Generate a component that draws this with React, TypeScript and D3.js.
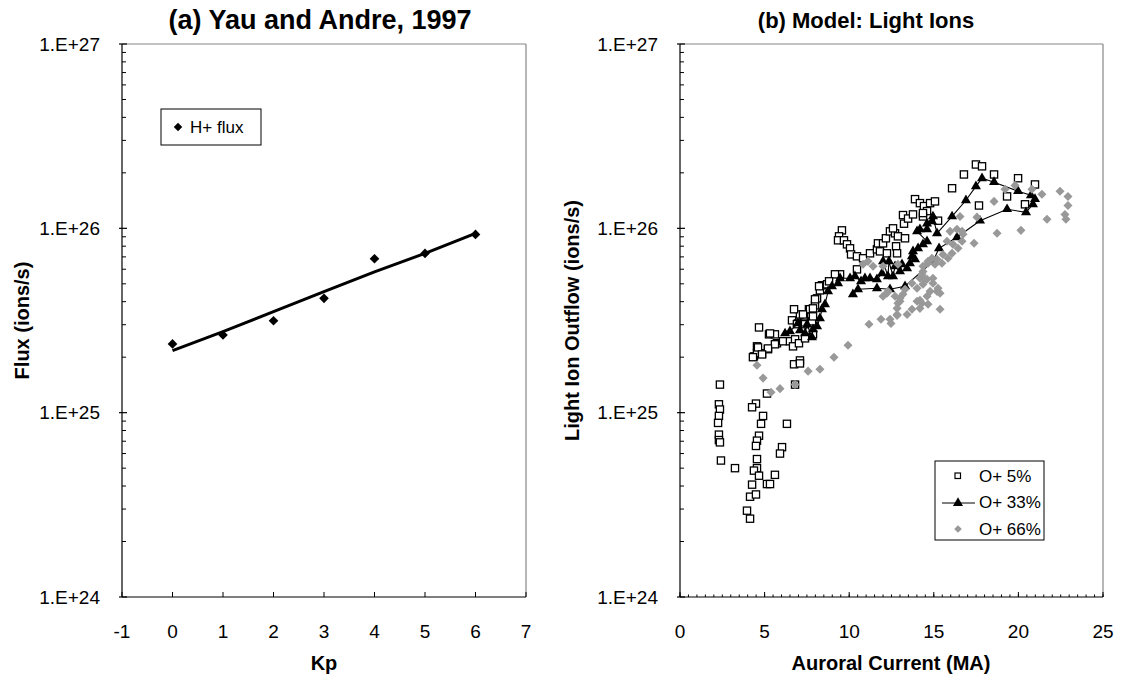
import React from 'react';
import * as d3 from 'd3';

// ---------- Panel (a) data ----------
const kpValues = [0, 1, 2, 3, 4, 5, 6];
const hFlux = [2.36e25, 2.64e25, 3.15e25, 4.17e25, 6.84e25, 7.31e25, 9.27e25];
const fitKp = [0, 1, 2, 3, 4, 5, 6];
const fitFlux = [2.17e25, 2.75e25, 3.53e25, 4.53e25, 5.81e25, 7.31e25, 9.4e25];
const kpTicks = [-1, 0, 1, 2, 3, 4, 5, 6, 7];

// ---------- Panel (b) data: [auroral current (MA), flux (ions/s)] ----------
const o5: [number, number][] = [
  [2.36, 1.42e25], [2.3, 1.11e25], [2.36, 1.04e25], [2.3, 9.6e24], [2.25, 8.8e24], [2.3, 7.6e24], [2.3, 7.1e24], [2.36, 6.9e24], [2.42, 5.5e24], [3.25, 5.0e24],
  [4.49, 1.12e25], [4.26, 1.07e25], [4.91, 9.6e24], [4.79, 8.7e24], [4.67, 7.5e24], [4.55, 7.05e24], [4.49, 6.6e24], [4.55, 5.6e24], [4.55, 5.0e24], [4.37, 4.85e24],
  [4.67, 4.55e24], [4.26, 4.07e24], [4.14, 3.5e24], [4.49, 3.6e24], [3.96, 2.94e24], [4.14, 2.66e24], [5.14, 4.1e24], [5.32, 4.1e24], [5.61, 4.6e24], [6.03, 6.5e24],
  [5.91, 6.0e24], [6.32, 8.7e24], [6.74, 1.83e25], [7.09, 1.92e25], [5.14, 1.27e25], [6.8, 1.42e25],
  [4.67, 2.9e25], [4.37, 2.02e25], [4.55, 2.1e25], [4.85, 2.1e25], [4.55, 2.29e25], [5.2, 2.21e25], [5.26, 2.66e25], [5.61, 2.66e25], [5.73, 2.38e25], [6.09, 2.44e25],
  [6.5, 2.44e25], [6.8, 2.5e25], [6.68, 2.29e25], [7.03, 2.38e25], [7.39, 2.53e25], [7.62, 2.8e25], [7.33, 3.33e25], [7.62, 3.64e25], [7.98, 3.82e25], [8.27, 4.61e25],
  [8.39, 4.91e25], [8.1, 4.17e25], [6.62, 3.17e25], [6.97, 3.05e25], [7.09, 3.41e25], [7.39, 3.02e25], [7.8, 3.13e25], [7.86, 2.66e25], [6.74, 3.64e25], [8.22, 4.85e25],
  [8.69, 4.97e25], [7.68, 3.64e25], [7.27, 3.41e25], [6.91, 3.02e25], [5.32, 2.69e25], [5.61, 2.35e25], [5.2, 2.23e25], [4.61, 2.26e25], [4.85, 2.07e25], [4.31, 2.0e25],
  [7.09, 1.85e25], [7.86, 3.33e25],
  [9.57, 9.75e25], [9.4, 9.05e25], [9.34, 8.61e25], [9.69, 8.61e25], [9.87, 8.19e25], [10.05, 7.79e25], [10.11, 7.22e25], [10.46, 7.05e25], [10.82, 6.88e25], [11.23, 7.32e25],
  [11.64, 7.69e25], [11.7, 8.29e25], [12.0, 8.29e25], [12.17, 8.83e25], [12.41, 9.63e25], [12.71, 9.4e25], [12.59, 1.0e26], [12.88, 9.05e25], [13.3, 8.83e25], [13.24, 1.06e26],
  [13.18, 1.18e26], [13.48, 1.13e26], [13.77, 1.19e26], [13.89, 1.44e26], [14.18, 1.37e26], [14.42, 1.32e26], [14.6, 1.24e26], [14.78, 1.37e26], [15.07, 1.4e26], [14.36, 1.16e26],
  [11.82, 7.5e25], [12.23, 7.32e25], [12.77, 7.99e25], [12.83, 7.32e25], [10.46, 5.99e25], [9.46, 5.63e25], [9.16, 5.63e25], [8.81, 5.16e25], [7.98, 4.12e25], [7.86, 3.68e25],
  [17.49, 2.22e26], [17.85, 2.17e26], [16.78, 1.96e26], [16.08, 1.65e26], [18.56, 1.96e26], [19.98, 1.87e26], [20.98, 1.73e26], [19.33, 1.49e26], [17.67, 1.33e26], [20.39, 1.35e26],
  [15.25, 1.1e26], [14.36, 1.21e26],
];

const o33: [number, number][] = [
  [6.21, 2.69e25], [6.5, 2.76e25], [6.97, 3.05e25], [7.09, 2.8e25], [7.39, 2.69e25], [7.51, 3.01e25], [7.8, 2.56e25], [7.86, 2.83e25], [8.1, 2.94e25], [8.27, 3.25e25],
  [8.39, 3.64e25], [8.57, 3.87e25], [8.75, 4.55e25], [8.98, 4.85e25], [9.34, 5.03e25], [9.46, 5.36e25], [10.05, 5.36e25], [10.34, 5.49e25], [10.7, 5.16e25], [10.93, 5.36e25],
  [11.23, 5.36e25], [11.64, 5.29e25], [11.94, 5.7e25], [12.0, 6.62e25], [12.29, 5.49e25], [12.35, 6.62e25], [12.59, 5.49e25], [12.71, 6.22e25], [13.0, 5.84e25], [13.12, 6.38e25],
  [13.42, 6.07e25], [13.59, 6.46e25], [13.71, 7.05e25], [13.89, 6.79e25], [13.77, 7.5e25], [14.07, 7.79e25], [14.36, 8.19e25], [14.6, 8.5e25], [14.01, 9.63e25], [14.18, 9.88e25],
  [14.6, 9.88e25], [14.6, 1.06e26], [14.89, 1.09e26], [14.95, 1.16e26], [15.19, 9.4e25], [16.08, 1.16e26], [16.9, 1.42e26], [17.49, 1.69e26], [17.85, 1.87e26], [18.56, 1.78e26],
  [19.98, 1.59e26], [20.74, 1.51e26], [20.98, 1.44e26], [20.86, 1.35e26], [20.45, 1.22e26], [19.33, 1.27e26], [17.73, 1.1e26], [16.37, 8.94e25], [15.31, 7.79e25], [14.95, 6.62e25],
  [13.3, 4.85e25], [12.41, 4.67e25], [11.64, 4.73e25], [10.52, 4.67e25], [10.22, 4.39e25],
];

const o66: [number, number][] = [
  [4.55, 1.81e25], [4.91, 1.54e25], [5.38, 1.29e25], [5.91, 1.35e25], [6.8, 1.42e25], [7.57, 1.68e25], [8.27, 1.72e25], [9.1, 2.0e25], [9.93, 2.32e25], [11.17, 3.02e25],
  [11.88, 3.21e25], [12.47, 3.05e25], [12.83, 3.37e25], [12.0, 4.28e25], [12.29, 4.55e25], [12.88, 3.92e25], [10.82, 6.38e25], [11.11, 6.62e25], [11.41, 6.22e25], [12.0, 6.22e25],
  [12.23, 4.44e25], [12.71, 4.28e25], [13.18, 4.39e25], [13.0, 4.02e25], [13.3, 4.67e25], [13.71, 5.03e25], [14.01, 4.73e25], [14.18, 5.36e25], [14.36, 5.84e25], [14.66, 6.62e25],
  [14.89, 6.88e25], [15.19, 6.79e25], [14.36, 4.97e25], [14.6, 5.29e25], [14.95, 5.36e25], [14.01, 4.02e25], [14.18, 3.68e25], [13.71, 3.64e25], [13.42, 3.41e25], [12.83, 3.41e25],
  [12.41, 3.21e25], [12.83, 3.68e25], [14.6, 4.28e25], [14.66, 3.87e25], [15.19, 4.55e25], [12.88, 6.38e25],
  [18.56, 1.4e26], [19.21, 1.63e26], [19.8, 1.71e26], [17.55, 1.15e26], [16.55, 1.16e26], [17.38, 8.29e25], [18.74, 9.4e25], [20.15, 9.75e25], [21.69, 1.12e26], [21.39, 1.53e26],
  [22.46, 1.59e26], [22.93, 1.49e26], [22.93, 1.33e26], [22.75, 1.19e26], [22.81, 1.12e26], [20.8, 1.63e26],
  [16.67, 9.63e25], [16.37, 9.88e25], [16.73, 9.28e25], [15.96, 9.63e25], [15.78, 8.5e25], [16.67, 8.5e25], [16.13, 8.19e25], [16.43, 7.79e25], [16.08, 7.32e25], [15.84, 6.88e25],
  [15.54, 7.22e25], [15.48, 6.46e25], [15.07, 6.38e25], [14.66, 6.46e25], [14.36, 6.22e25], [14.3, 5.63e25], [14.48, 5.29e25], [14.95, 5.03e25], [15.25, 4.73e25], [15.37, 4.44e25],
  [14.78, 4.55e25], [14.3, 3.92e25], [15.37, 3.64e25], [14.18, 4.07e25], [13.0, 4.17e25],
];

const currentTicks = [0, 5, 10, 15, 20, 25];
const yTickValues = [1e24, 1e25, 1e26, 1e27];
const yTickLabels = ['1.E+24', '1.E+25', '1.E+26', '1.E+27'];
const legendB = ['O+ 5%', 'O+ 33%', 'O+ 66%'];

const FONT = "Arial, 'Liberation Sans', Helvetica, sans-serif";
const TOP = 44;
const BOTTOM = 597;
const GRAY = '#999999';
const FRAME = '#868686';

function YAxis({ x, y }: { x: number; y: d3.ScaleLogarithmic<number, number> }) {
  const minors: number[] = [];
  [1e24, 1e25, 1e26].forEach((dec) => {
    for (let m = 2; m <= 9; m++) minors.push(m * dec);
  });
  return (
    <g>
      <line x1={x} x2={x} y1={TOP} y2={BOTTOM} stroke="#000" strokeWidth={1.2} />
      {minors.map((v, i) => (
        <line key={'m' + i} x1={x} x2={x + 4} y1={y(v)} y2={y(v)} stroke="#000" strokeWidth={1} />
      ))}
      {yTickValues.map((v, i) => (
        <g key={'M' + i}>
          <line x1={x - 3} x2={x + 5} y1={y(v)} y2={y(v)} stroke="#000" strokeWidth={1.2} />
          <text x={x - 22} y={y(v)} textAnchor="end" dominantBaseline="central" fontSize={19} fontFamily={FONT}>
            {yTickLabels[i]}
          </text>
        </g>
      ))}
    </g>
  );
}

export default function App() {
  // Panel (a)
  const xa = d3.scaleLinear().domain([-1, 7]).range([122, 526]);
  const ya = d3.scaleLog().domain([1e24, 1e27]).range([BOTTOM, TOP]);
  // Panel (b)
  const xb = d3.scaleLinear().domain([0, 25]).range([680, 1103]);
  const yb = d3.scaleLog().domain([1e24, 1e27]).range([BOTTOM, TOP]);

  const fitLine = d3
    .line<number>()
    .x((_, i) => xa(fitKp[i]))
    .y((v) => ya(v));
  const o33Line = d3
    .line<[number, number]>()
    .x((d) => xb(d[0]))
    .y((d) => yb(d[1]));

  const triPath = d3.symbol().type(d3.symbolTriangle).size(44)()!;
  const sqSide = 7.2;
  const dia = 6.8; // side of rotated square, panel (a)
  const diaB = 6.4; // side of rotated square, panel (b)

  const bMinor = d3.range(0, 25.01, 0.5);

  return (
    <svg width={1121} height={681} style={{ position: 'absolute', left: 0, top: 0, background: '#fff' }}>
      <rect x={0} y={0} width={1121} height={681} fill="#fff" />

      {/* ---------- Panel (a) ---------- */}
      <text x={320} y={20} textAnchor="middle" dominantBaseline="central" fontSize={27} fontWeight="bold" fontFamily={FONT}>
        (a) Yau and Andre, 1997
      </text>
      <line x1={122} x2={526} y1={TOP} y2={TOP} stroke={FRAME} strokeWidth={1.2} />
      <line x1={526} x2={526} y1={TOP} y2={BOTTOM} stroke={FRAME} strokeWidth={1.2} />
      <YAxis x={122} y={ya} />
      <line x1={122} x2={526} y1={BOTTOM} y2={BOTTOM} stroke="#000" strokeWidth={1.2} />
      {kpTicks.map((t) => (
        <g key={'ka' + t}>
          <line x1={xa(t)} x2={xa(t)} y1={BOTTOM} y2={BOTTOM - 5} stroke="#000" strokeWidth={1} />
          <text x={xa(t)} y={631} textAnchor="middle" dominantBaseline="central" fontSize={19} fontFamily={FONT}>
            {t}
          </text>
        </g>
      ))}
      <text x={324} y={663} textAnchor="middle" dominantBaseline="central" fontSize={20} fontWeight="bold" fontFamily={FONT}>
        Kp
      </text>
      <text
        transform={`translate(22,${(TOP + BOTTOM) / 2}) rotate(-90)`}
        textAnchor="middle"
        dominantBaseline="central"
        fontSize={20}
        fontWeight="bold"
        fontFamily={FONT}
      >
        Flux (ions/s)
      </text>
      <path d={fitLine(fitFlux)!} fill="none" stroke="#000" strokeWidth={3} strokeLinejoin="round" />
      {kpValues.map((k, i) => (
        <rect
          key={'hd' + i}
          x={-dia / 2}
          y={-dia / 2}
          width={dia}
          height={dia}
          fill="#000"
          transform={`translate(${xa(k)},${ya(hFlux[i])}) rotate(45)`}
        />
      ))}
      {/* legend (a) */}
      <rect x={161} y={109} width={100} height={36} fill="#fff" stroke="#000" strokeWidth={1} />
      <rect x={-3} y={-3} width={6} height={6} fill="#000" transform="translate(178,127) rotate(45)" />
      <text x={190} y={127} dominantBaseline="central" fontSize={17} fontFamily={FONT}>
        H+ flux
      </text>

      {/* ---------- Panel (b) ---------- */}
      <text x={866} y={20} textAnchor="middle" dominantBaseline="central" fontSize={22} fontWeight="bold" fontFamily={FONT}>
        (b) Model: Light Ions
      </text>
      <line x1={680} x2={1103} y1={TOP} y2={TOP} stroke={FRAME} strokeWidth={1.2} />
      <line x1={1103} x2={1103} y1={TOP} y2={BOTTOM} stroke={FRAME} strokeWidth={1.2} />
      <YAxis x={680} y={yb} />
      <line x1={680} x2={1103} y1={BOTTOM} y2={BOTTOM} stroke="#000" strokeWidth={1.2} />
      {bMinor.map((t, i) => (
        <line key={'bm' + i} x1={xb(t)} x2={xb(t)} y1={BOTTOM} y2={BOTTOM - 2.5} stroke="#000" strokeWidth={1} />
      ))}
      {currentTicks.map((t) => (
        <g key={'cb' + t}>
          <line x1={xb(t)} x2={xb(t)} y1={BOTTOM} y2={BOTTOM - 5} stroke="#000" strokeWidth={1} />
          <text x={xb(t)} y={631} textAnchor="middle" dominantBaseline="central" fontSize={19} fontFamily={FONT}>
            {t}
          </text>
        </g>
      ))}
      <text x={891} y={663} textAnchor="middle" dominantBaseline="central" fontSize={20} fontWeight="bold" fontFamily={FONT}>
        Auroral Current (MA)
      </text>
      <text
        transform={`translate(572,${(TOP + BOTTOM) / 2}) rotate(-90)`}
        textAnchor="middle"
        dominantBaseline="central"
        fontSize={20}
        fontWeight="bold"
        fontFamily={FONT}
      >
        Light Ion Outflow (ions/s)
      </text>

      {/* O+ 5% squares */}
      {o5.map((d, i) => (
        <rect
          key={'s' + i}
          x={xb(d[0]) - sqSide / 2}
          y={yb(d[1]) - sqSide / 2}
          width={sqSide}
          height={sqSide}
          fill="#fff"
          stroke="#000"
          strokeWidth={1.3}
        />
      ))}
      {/* O+ 33% triangles with line */}
      <path d={o33Line(o33)!} fill="none" stroke="#000" strokeWidth={1.1} />
      {o33.map((d, i) => (
        <path key={'t' + i} d={triPath} transform={`translate(${xb(d[0])},${yb(d[1])})`} fill="#000" />
      ))}
      {/* O+ 66% diamonds */}
      {o66.map((d, i) => (
        <rect
          key={'d' + i}
          x={-diaB / 2}
          y={-diaB / 2}
          width={diaB}
          height={diaB}
          fill={GRAY}
          transform={`translate(${xb(d[0])},${yb(d[1])}) rotate(45)`}
        />
      ))}

      {/* legend (b) */}
      <rect x={935} y={461} width={109} height={79} fill="#fff" stroke="#000" strokeWidth={1} />
      <rect x={955} y={473} width={5.5} height={5.5} fill="#fff" stroke="#000" strokeWidth={1.2} />
      <line x1={942} x2={975} y1={503} y2={503} stroke="#000" strokeWidth={1} />
      <path d={triPath} transform="translate(958,503)" fill="#000" />
      <rect x={-2.7} y={-2.7} width={5.4} height={5.4} fill={GRAY} transform="translate(958,529) rotate(45)" />
      {legendB.map((l, i) => (
        <text key={l} x={979} y={476 + i * 26.5} dominantBaseline="central" fontSize={17} fontFamily={FONT}>
          {l}
        </text>
      ))}
    </svg>
  );
}
